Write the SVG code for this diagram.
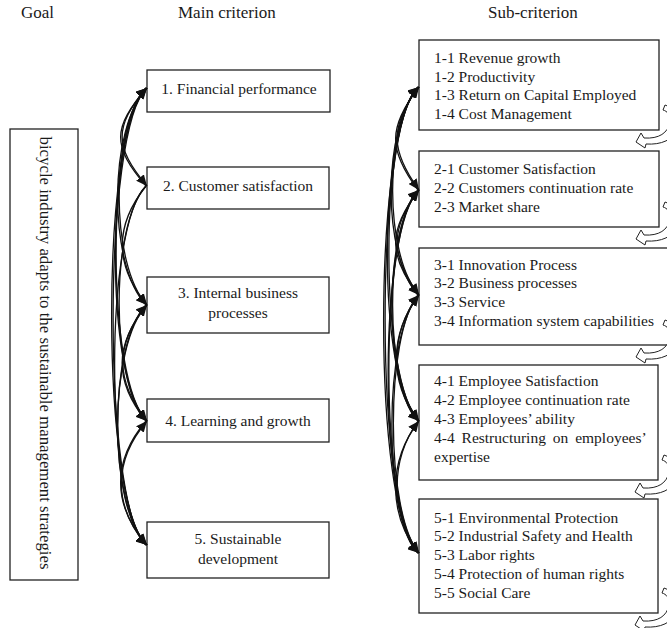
<svg xmlns="http://www.w3.org/2000/svg" width="667" height="628" viewBox="0 0 667 628">
<style>
text{font-family:"Liberation Serif","Times New Roman",serif;fill:#1a1a1a}
.hd{font-size:17px}
.bt{font-size:15.5px}
.box{fill:#fff;stroke:#222;stroke-width:1.3}
.c path{fill:none;stroke:#111;stroke-width:1.3;marker-end:url(#ah)}
.loop{fill:#fff;stroke:#222;stroke-width:1}
</style>
<defs>
<marker id="ah" markerWidth="12" markerHeight="10" refX="11" refY="5" orient="auto" markerUnits="userSpaceOnUse"><path d="M0,0 L11,5 L0,10 z" fill="#111"/></marker>
<path id="lp" d="M-23 12 L-18 3 L-15 8 C0 9 9 3 11 -8 C12 -15 8 -19 4 -20 L6 -25 C16 -22 20 -12 18 -2 C15 10 2 15 -13 14 L-14 18 Z"/>
</defs>
<g id="headers">
<text class="hd" x="21" y="18">Goal</text>
<text class="hd" x="178" y="18">Main criterion</text>
<text class="hd" x="488" y="18">Sub-criterion</text>
</g>
<g id="goal">
<rect class="box" x="10" y="129" width="68" height="451"/>
<text style="font-size:16.8px" text-anchor="middle" transform="translate(40,353) rotate(90)">bicycle industry adapts to the sustainable management strategies</text>
</g>
<g id="main1"><rect class="box" x="147" y="70" width="183" height="42"/><text class="bt" x="239" y="94" text-anchor="middle">1. Financial performance</text></g>
<g id="main2"><rect class="box" x="147" y="167" width="182" height="42"/><text class="bt" x="238" y="191" text-anchor="middle">2. Customer satisfaction</text></g>
<g id="main3"><rect class="box" x="147" y="277" width="182" height="56"/><text class="bt" x="238" y="298" text-anchor="middle">3. Internal business</text><text class="bt" x="238" y="318" text-anchor="middle">processes</text></g>
<g id="main4"><rect class="box" x="147" y="399" width="182" height="43"/><text class="bt" x="238" y="426" text-anchor="middle">4. Learning and growth</text></g>
<g id="main5"><rect class="box" x="147" y="522" width="182" height="56"/><text class="bt" x="238" y="544" text-anchor="middle">5. Sustainable</text><text class="bt" x="238" y="564" text-anchor="middle">development</text></g>
<g id="sub1"><rect class="box" x="419" y="40" width="240" height="90"/>
<text class="bt"><tspan x="434" y="63">1-1 Revenue growth</tspan><tspan x="434" y="82">1-2 Productivity</tspan><tspan x="434" y="100">1-3 Return on Capital Employed</tspan><tspan x="434" y="119">1-4 Cost Management</tspan></text></g>
<g id="sub2"><rect class="box" x="419" y="151" width="240" height="76"/>
<text class="bt"><tspan x="434" y="174">2-1 Customer Satisfaction</tspan><tspan x="434" y="193">2-2 Customers continuation rate</tspan><tspan x="434" y="212">2-3 Market share</tspan></text></g>
<g id="sub3"><rect class="box" x="419" y="248" width="252" height="97"/>
<text class="bt"><tspan x="434" y="270">3-1 Innovation Process</tspan><tspan x="434" y="288">3-2 Business processes</tspan><tspan x="434" y="307">3-3 Service</tspan><tspan x="434" y="326">3-4 Information system capabilities</tspan></text></g>
<g id="sub4"><rect class="box" x="419" y="365" width="239" height="115"/>
<text class="bt"><tspan x="434" y="386">4-1 Employee Satisfaction</tspan><tspan x="434" y="405">4-2 Employee continuation rate</tspan><tspan x="434" y="424">4-3 Employees’ ability</tspan><tspan x="434" y="443" word-spacing="3">4-4 Restructuring on employees’</tspan><tspan x="434" y="462">expertise</tspan></text></g>
<g id="sub5"><rect class="box" x="419" y="499" width="239" height="114"/>
<text class="bt"><tspan x="434" y="523">5-1 Environmental Protection</tspan><tspan x="434" y="541">5-2 Industrial Safety and Health</tspan><tspan x="434" y="560">5-3 Labor rights</tspan><tspan x="434" y="579">5-4 Protection of human rights</tspan><tspan x="434" y="598">5-5 Social Care</tspan></text></g>
<g id="connectors" class="c">
<path d="M146 186 C112 146 112 128 147 88"/>
<path d="M146 305 C108 265 108 128 147 88"/>
<path d="M146 421 C105 381 105 128 147 88"/>
<path d="M146 545 C102 505 102 128 147 88"/>
<path d="M146 88 C114 128 114 146 147 186"/>
<path d="M146 88 C110 128 110 265 147 305"/>
<path d="M146 186 C114 226 114 265 147 305"/>
<path d="M146 421 C114 381 114 345 147 305"/>
<path d="M146 545 C108 505 108 345 147 305"/>
<path d="M146 88 C106 128 106 381 147 421"/>
<path d="M146 186 C110 226 110 381 147 421"/>
<path d="M146 305 C115 345 115 381 147 421"/>
<path d="M146 545 C113 505 113 461 147 421"/>
<path d="M146 88 C100 128 100 505 147 545"/>
<path d="M146 186 C104 226 104 505 147 545"/>
<path d="M146 305 C108 345 108 505 147 545"/>
<path d="M146 421 C112 461 112 505 147 545"/>
<path d="M418 190 C388 150 388 127 419 87"/>
<path d="M418 295 C382 255 382 127 419 87"/>
<path d="M418 421 C377 381 377 127 419 87"/>
<path d="M418 553 C372 513 372 127 419 87"/>
<path d="M418 87 C390 127 390 150 419 190"/>
<path d="M418 295 C388 255 388 230 419 190"/>
<path d="M418 421 C383 381 383 230 419 190"/>
<path d="M418 553 C378 513 378 230 419 190"/>
<path d="M418 87 C384 127 384 255 419 295"/>
<path d="M418 190 C390 230 390 255 419 295"/>
<path d="M418 421 C389 381 389 335 419 295"/>
<path d="M418 553 C383 513 383 335 419 295"/>
<path d="M418 87 C379 127 379 381 419 421"/>
<path d="M418 190 C384 230 384 381 419 421"/>
<path d="M418 295 C390 335 390 381 419 421"/>
<path d="M418 553 C388 513 388 461 419 421"/>
<path d="M418 87 C374 127 374 513 419 553"/>
<path d="M418 190 C379 230 379 513 419 553"/>
<path d="M418 295 C385 335 385 513 419 553"/>
<path d="M418 421 C390 461 390 513 419 553"/>
</g>
<g id="self-loops">
<use href="#lp" class="loop" transform="translate(659,130)"/>
<use href="#lp" class="loop" transform="translate(659,227)"/>
<use href="#lp" class="loop" transform="translate(659,345)"/>
<use href="#lp" class="loop" transform="translate(658,480)"/>
<use href="#lp" class="loop" transform="translate(658,613)"/>
</g>
</svg>
